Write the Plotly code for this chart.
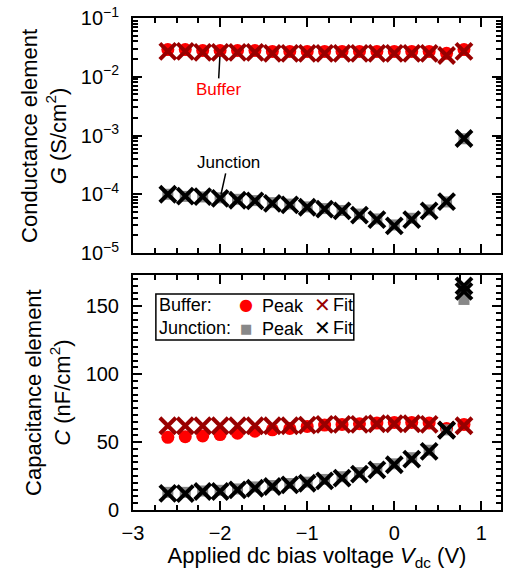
import math
import plotly.graph_objects as go

# ---------------- data ----------------
V_dc = [-2.6, -2.4, -2.2, -2.0, -1.8, -1.6, -1.4, -1.2, -1.0, -0.8,
        -0.6, -0.4, -0.2, 0.0, 0.2, 0.4, 0.6, 0.8]

G_buffer_fit = [0.027, 0.027, 0.026, 0.026, 0.026, 0.026, 0.025, 0.025, 0.025,
                0.025, 0.025, 0.025, 0.025, 0.025, 0.025, 0.025, 0.023, 0.027]
G_buffer_peak = [0.029, 0.029, 0.028, 0.028, 0.028, 0.028, 0.027, 0.027, 0.027,
                 0.027, 0.027, 0.027, 0.027, 0.027, 0.027, 0.027, 0.025, 0.029]
G_junction_fit = [1.0e-4, 9.3e-5, 9.1e-5, 8.5e-5, 7.9e-5, 7.7e-5, 7.0e-5, 6.6e-5,
                  6.0e-5, 5.6e-5, 5.2e-5, 4.4e-5, 3.7e-5, 2.9e-5, 3.7e-5, 5.2e-5,
                  7.5e-5, 8.9e-4]
G_junction_peak = [1.0e-4, 9.2e-5, 9.0e-5, 8.7e-5, 8.2e-5, 7.8e-5, 7.2e-5, 6.8e-5,
                   6.1e-5, 5.7e-5, 5.3e-5, 4.6e-5, 3.8e-5, 3.0e-5, 3.9e-5, 5.4e-5,
                   7.4e-5, 8.8e-4]

C_buffer_fit = [62, 62, 62, 62, 62, 62, 62, 62, 62.5, 63, 63, 63, 63.5, 63.5,
                63.5, 63, 59, 62]
C_buffer_peak = [53.5, 54, 54.5, 55.5, 56.5, 58, 59, 60, 61.5, 62.5, 63, 63.5,
                 64, 64.5, 64.5, 64, 60, 63]
C_junction_fit = [12.3, 12, 13.6, 13.6, 14.8, 16, 17.3, 18.5, 19.7, 21.5, 23.5,
                  26.4, 29.6, 33.3, 37.5, 43.2, 58.7, 161]
C_junction_peak = [13, 13, 14, 14.5, 15.5, 17, 18, 19.5, 20.5, 22.5, 24.5, 27.5,
                   30.5, 34, 38.5, 44, 59, 155]
V_extra = [0.8]
C_junction_fit_extra = [165]

G_tickvals = [1e-5, 1e-4, 1e-3, 1e-2, 1e-1]
G_ticktext = ["10<sup>\u22125</sup>", "10<sup>\u22124</sup>", "10<sup>\u22123</sup>",
              "10<sup>\u22122</sup>", "10<sup>\u22121</sup>"]

# ---------------- styles ----------------
FONT = "Liberation Sans, Arial, sans-serif"
RED = "#ff0000"
DARKRED = "#990000"
GRAY = "#888888"
BLACK = "#000000"

fit_marker = lambda c: dict(symbol="x-thin", size=16, line=dict(width=4, color=c), color=c)

fig = go.Figure()

# top panel (G)
fig.add_trace(go.Scatter(x=V_dc, y=G_buffer_peak, mode="markers", xaxis="x", yaxis="y",
                         marker=dict(symbol="circle", size=13, color=RED)))
fig.add_trace(go.Scatter(x=V_dc, y=G_junction_peak, mode="markers", xaxis="x", yaxis="y",
                         marker=dict(symbol="square", size=11, color=GRAY)))
fig.add_trace(go.Scatter(x=V_dc, y=G_buffer_fit, mode="markers", xaxis="x", yaxis="y",
                         marker=fit_marker(DARKRED)))
fig.add_trace(go.Scatter(x=V_dc, y=G_junction_fit, mode="markers", xaxis="x", yaxis="y",
                         marker=fit_marker(BLACK)))

# bottom panel (C)
fig.add_trace(go.Scatter(x=V_dc, y=C_buffer_peak, mode="markers", xaxis="x2", yaxis="y2",
                         marker=dict(symbol="circle", size=13, color=RED)))
fig.add_trace(go.Scatter(x=V_dc, y=C_junction_peak, mode="markers", xaxis="x2", yaxis="y2",
                         marker=dict(symbol="square", size=11, color=GRAY)))
fig.add_trace(go.Scatter(x=V_dc, y=C_buffer_fit, mode="markers", xaxis="x2", yaxis="y2",
                         marker=fit_marker(DARKRED)))
fig.add_trace(go.Scatter(x=V_dc, y=C_junction_fit, mode="markers", xaxis="x2", yaxis="y2",
                         marker=fit_marker(BLACK)))
fig.add_trace(go.Scatter(x=V_extra, y=C_junction_fit_extra, mode="markers", xaxis="x2", yaxis="y2",
                         marker=fit_marker(BLACK)))

# ---------------- layout ----------------
L, R, T, B = 133, 2, 18, 61
W, H = 505, 571
ph = H - T - B
pw = W - L - R
top_dom = [(510 - 253) / ph, 1.0]
bot_dom = [0.0, (510 - 275) / ph]

def px(x):
    return (x - L) / pw

def py(y):
    return (510 - y) / ph

axis_common = dict(showline=True, linewidth=2, linecolor=BLACK, mirror="ticks",
                   ticks="inside", tickwidth=1.5, tickcolor=BLACK, ticklen=9,
                   showgrid=False, zeroline=False,
                   tickfont=dict(family=FONT, size=20, color=BLACK))

xcommon = dict(axis_common, range=[-3, 1.225], tick0=0, dtick=1,
               minor=dict(ticks="inside", dtick=0.25, tick0=0, ticklen=5,
                          tickwidth=1.5, tickcolor=BLACK, showgrid=False))

minor_log = [k * 10 ** e for e in range(-5, -1) for k in range(2, 10)]

fig.update_layout(
    width=W, height=H,
    margin=dict(l=L, r=R, t=T, b=B),
    paper_bgcolor="white", plot_bgcolor="white",
    showlegend=False,
    font=dict(family=FONT, color=BLACK),
    xaxis=dict(xcommon, domain=[0, 1], anchor="y", showticklabels=False),
    yaxis=dict(axis_common, domain=top_dom, anchor="x", type="log", range=[-5, -1],
               tickmode="array", tickvals=G_tickvals, ticktext=G_ticktext,
               ticklabelstandoff=8,
               minor=dict(ticks="inside", tickmode="array", tickvals=minor_log,
                          ticklen=5, tickwidth=1.5, tickcolor=BLACK, showgrid=False)),
    xaxis2=dict(xcommon, domain=[0, 1], anchor="y2", ticklabelstandoff=4,
                title=dict(text="Applied dc bias voltage <i>V</i><sub>dc</sub> (V)",
                           font=dict(family=FONT, size=22, color=BLACK), standoff=7)),
    yaxis2=dict(axis_common, domain=bot_dom, anchor="x2", range=[0, 173],
                tick0=0, dtick=50, ticklabelstandoff=8,
                minor=dict(ticks="inside", dtick=5, tick0=0, ticklen=5,
                           tickwidth=1.5, tickcolor=BLACK, showgrid=False)),
)

ann = []
# y-axis titles
ann.append(dict(xref="paper", yref="paper", x=px(44), y=py(135.5), textangle=-90,
                text="Conductance element<br><i>G</i> (S/cm<sup>2</sup>)", showarrow=False,
                font=dict(family=FONT, size=22, color=BLACK), xanchor="center", yanchor="middle"))
ann.append(dict(xref="paper", yref="paper", x=px(47), y=py(392.5), textangle=-90,
                text="Capacitance element<br><i>C</i> (nF/cm<sup>2</sup>)", showarrow=False,
                font=dict(family=FONT, size=22, color=BLACK), xanchor="center", yanchor="middle"))

# pointer labels
ann.append(dict(xref="x", yref="y", x=V_dc[3], y=math.log10(G_buffer_fit[3]),
                text="Buffer", showarrow=True, arrowhead=0, arrowwidth=1.5, arrowcolor=BLACK,
                ax=-2, ay=37, standoff=4, font=dict(family=FONT, size=17, color=RED)))
ann.append(dict(xref="x", yref="y", x=V_dc[3], y=math.log10(G_junction_fit[3]),
                text="Junction", showarrow=True, arrowhead=0, arrowwidth=1.5, arrowcolor=BLACK,
                ax=8, ay=-36, standoff=4, font=dict(family=FONT, size=17, color=BLACK)))

# custom legend
lf = dict(family=FONT, size=18, color=BLACK)
rows = [(305, "Buffer:", "\u25CF", RED, DARKRED), (328, "Junction:", "\u25A0", GRAY, BLACK)]
for yy, lab, sym, c1, c2 in rows:
    ann.append(dict(xref="paper", yref="paper", x=px(157), y=py(yy), text=lab, showarrow=False,
                    xanchor="left", yanchor="middle", font=lf))
    ann.append(dict(xref="paper", yref="paper", x=px(246.5), y=py(yy), text=sym, showarrow=False,
                    xanchor="center", yanchor="middle",
                    font=dict(family="DejaVu Sans", size=16 if sym == "\u25CF" else 13, color=c1)))
    ann.append(dict(xref="paper", yref="paper", x=px(261), y=py(yy + 1), text="Peak", showarrow=False,
                    xanchor="left", yanchor="middle", font=lf))
    ann.append(dict(xref="paper", yref="paper", x=px(324), y=py(yy), text="\u2715", showarrow=False,
                    xanchor="center", yanchor="middle",
                    font=dict(family="DejaVu Sans", size=20, color=c2)))
    ann.append(dict(xref="paper", yref="paper", x=px(332), y=py(yy), text="Fit", showarrow=False,
                    xanchor="left", yanchor="middle", font=lf))
fig.update_layout(annotations=ann)

fig.add_shape(type="rect", xref="paper", yref="paper", x0=px(156), x1=px(355),
              y0=py(340), y1=py(294), line=dict(color=BLACK, width=1.5), fillcolor="white",
              layer="below")

fig.write_html("out.html")
